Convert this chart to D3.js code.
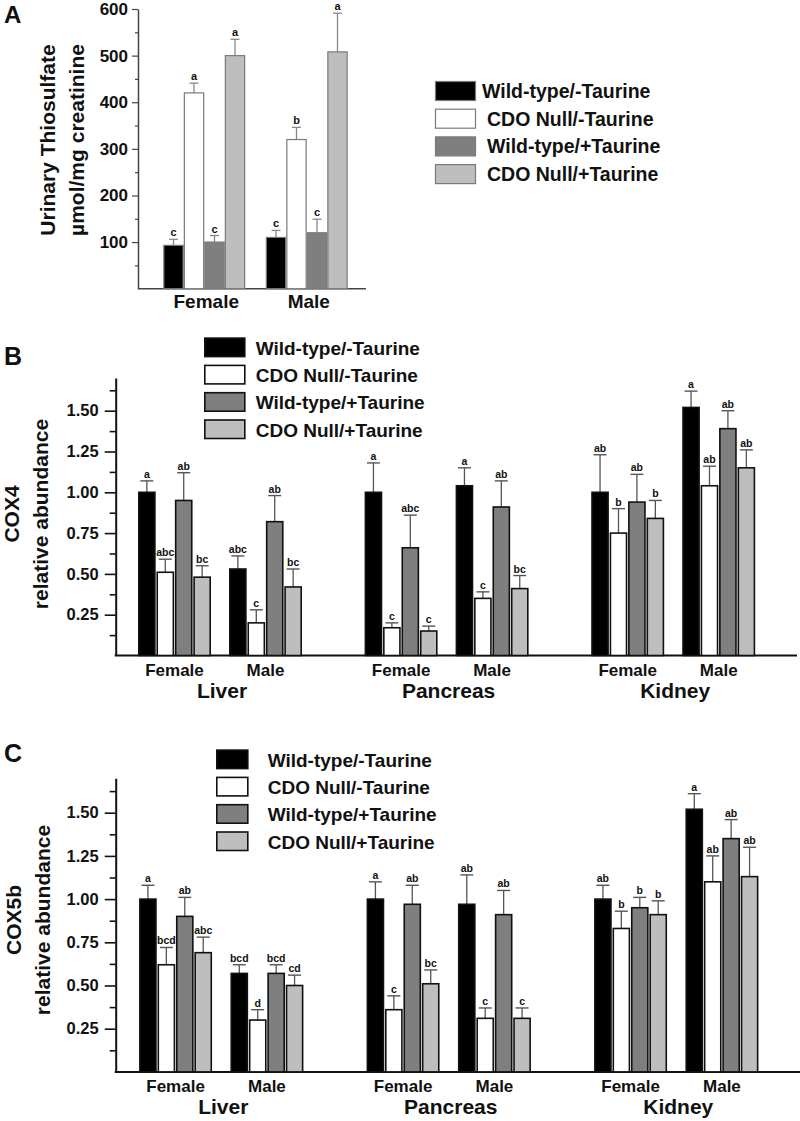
<!DOCTYPE html>
<html><head><meta charset="utf-8">
<script src="https://cdn.jsdelivr.net/npm/d3@7"></script>
<style>
body{margin:0;background:#fff;}
text{font-family:"Liberation Sans",Arial,Helvetica,sans-serif;font-weight:bold;fill:#111;}
</style></head>
<body>
<svg id="fig" width="800" height="1121"></svg>
<script>
// ---------- DATA ----------
const seriesNames = ["Wild-type/-Taurine", "CDO Null/-Taurine", "Wild-type/+Taurine", "CDO Null/+Taurine"];
const sexes = ["Female", "Male"];
const tissues = ["Liver", "Pancreas", "Kidney"];

// Panel A: urinary thiosulfate (µmol/mg creatinine), [sex][series]
const thioMean    = [[93, 420, 100, 500], [110, 320, 120, 508]];
const thioSem     = [[13, 21, 14, 35], [15, 26, 29, 83]];
const thioLetters = [["c", "a", "c", "a"], ["c", "b", "c", "a"]];
const thioTicks   = [100, 200, 300, 400, 500, 600];

// Panel B: COX4 relative abundance, groups: Liver F, Liver M, Pancreas F, Pancreas M, Kidney F, Kidney M
const cox4Mean = [
  [1.00, 0.51, 0.95, 0.48], [0.53, 0.20, 0.82, 0.42],
  [1.00, 0.17, 0.66, 0.15], [1.04, 0.35, 0.91, 0.41],
  [1.00, 0.75, 0.94, 0.84], [1.52, 1.04, 1.39, 1.15]];
const cox4Sem = [
  [0.07, 0.08, 0.17, 0.07], [0.08, 0.08, 0.16, 0.11],
  [0.18, 0.03, 0.20, 0.03], [0.11, 0.04, 0.16, 0.08],
  [0.23, 0.15, 0.17, 0.11], [0.10, 0.12, 0.11, 0.11]];
const cox4Letters = [
  ["a", "abc", "ab", "bc"], ["abc", "c", "ab", "bc"],
  ["a", "c", "abc", "c"], ["a", "c", "ab", "bc"],
  ["ab", "b", "ab", "b"], ["a", "ab", "ab", "ab"]];

// Panel C: COX5b relative abundance
const cox5bMean = [
  [1.00, 0.62, 0.90, 0.69], [0.57, 0.30, 0.57, 0.50],
  [1.00, 0.36, 0.97, 0.51], [0.97, 0.31, 0.91, 0.31],
  [1.00, 0.83, 0.95, 0.91], [1.52, 1.10, 1.35, 1.13]];
const cox5bSem = [
  [0.08, 0.10, 0.11, 0.09], [0.05, 0.06, 0.05, 0.06],
  [0.10, 0.08, 0.11, 0.08], [0.17, 0.06, 0.14, 0.06],
  [0.08, 0.10, 0.06, 0.08], [0.09, 0.15, 0.11, 0.17]];
const cox5bLetters = [
  ["a", "bcd", "ab", "abc"], ["bcd", "d", "bcd", "cd"],
  ["a", "c", "ab", "bc"], ["ab", "c", "ab", "c"],
  ["ab", "b", "b", "b"], ["a", "ab", "ab", "ab"]];
const coxTicks = [0.25, 0.50, 0.75, 1.00, 1.25, 1.50];

// ---------- STYLE ----------
const fills = ["#000000", "#ffffff", "#7f7f7f", "#bebebe"];
const svg = d3.select("#fig");
const color = d3.scaleOrdinal().domain(seriesNames).range(fills);

// ---------- PANEL A ----------
(function panelA(){
  const g = svg.append("g");
  const y = d3.scaleLinear().domain([0, 600]).range([288.7, 9]);
  const x = d3.scaleBand().domain(sexes).range([153, 358]).padding(0);
  const xs = d3.scaleBand().domain(seriesNames).range([0, x.bandwidth()]).paddingInner(0).paddingOuter(0.5);

  const minor = d3.range(50, 600, 100);
  g.append("g").attr("transform", "translate(138,0)")
    .call(d3.axisLeft(y).tickValues(minor).tickSize(3).tickFormat(""))
    .call(a => { a.select(".domain").remove(); a.selectAll("line").attr("stroke", "#444").attr("stroke-width", 1.2); });
  g.append("g").attr("transform", "translate(138,0)")
    .call(d3.axisLeft(y).tickValues(thioTicks).tickSize(6).tickSizeOuter(0).tickPadding(4).tickFormat(d3.format("d")))
    .call(a => {
      a.select(".domain").attr("stroke", "#444").attr("stroke-width", 1.5);
      a.selectAll("line").attr("stroke", "#444").attr("stroke-width", 1.2);
      a.selectAll("text").attr("font-size", 17).attr("fill", "#111").style("font-family", "'Liberation Sans', Arial, sans-serif");
    });
  g.append("line").attr("x1", 138).attr("x2", 366).attr("y1", y(0)).attr("y2", y(0))
    .attr("stroke", "#444").attr("stroke-width", 1.5);

  const data = [];
  sexes.forEach((s, i) => seriesNames.forEach((n, j) =>
    data.push({s, n, v: thioMean[i][j], e: thioSem[i][j], l: thioLetters[i][j]})));

  const bars = g.append("g").selectAll("g").data(data).join("g")
    .attr("transform", d => `translate(${x(d.s) + xs(d.n)},0)`);
  const bw = xs.bandwidth();
  bars.append("line").attr("x1", bw/2).attr("x2", bw/2)
    .attr("y1", d => y(d.v)).attr("y2", d => y(d.v + d.e)).attr("stroke", "#888").attr("stroke-width", 1.3);
  bars.append("line").attr("x1", bw/2 - 4.5).attr("x2", bw/2 + 4.5)
    .attr("y1", d => y(d.v + d.e)).attr("y2", d => y(d.v + d.e)).attr("stroke", "#888").attr("stroke-width", 1.3);
  bars.append("rect").attr("x", 0.6).attr("width", bw - 1.2)
    .attr("y", d => y(d.v)).attr("height", d => y(0) - y(d.v))
    .attr("fill", d => color(d.n)).attr("stroke", "#7a7a7a").attr("stroke-width", 1.2);
  bars.append("text").attr("x", bw/2).attr("y", d => y(d.v + d.e) - 3)
    .attr("text-anchor", "middle").attr("font-size", 11).text(d => d.l);

  g.selectAll(".sexlab").data(sexes).join("text").attr("class", "sexlab")
    .attr("x", d => x(d) + x.bandwidth()/2 + 2).attr("y", 308).attr("text-anchor", "middle")
    .attr("font-size", 19).text(d => d);

  const yt = g.append("g").attr("transform", "translate(0,140)");
  yt.append("text").attr("transform", "translate(55,0) rotate(-90)").attr("text-anchor", "middle")
    .attr("font-size", 21).text("Urinary Thiosulfate");
  yt.append("text").attr("transform", "translate(84,0) rotate(-90)").attr("text-anchor", "middle")
    .attr("font-size", 21).text("µmol/mg creatinine");

  const leg = g.append("g").selectAll("g").data(seriesNames).join("g")
    .attr("transform", (d, i) => `translate(435,${81 + i * 27.7})`);
  leg.append("rect").attr("x", 0.5).attr("y", 0.5).attr("width", 40).attr("height", 19)
    .attr("fill", d => color(d)).attr("stroke", "#7a7a7a").attr("stroke-width", 1.2);
  leg.append("text").attr("x", (d, i) => i === 0 ? 47 : 52).attr("y", 17)
    .attr("font-size", 19.5).text(d => d);

  svg.append("text").attr("x", 4).attr("y", 23).attr("font-size", 24).text("A");
})();

// ---------- PANELS B & C ----------
function coxPanel(cfg){
  const g = svg.append("g");
  const y = d3.scaleLinear().domain([0, 1.7]).range([cfg.y0, cfg.y0 - 1.7 * cfg.ppu]);
  const xt = d3.scaleBand().domain(tissues).range(cfg.tRange).padding(0);
  const xsex = d3.scalePoint().domain(sexes).range([0, xt.bandwidth()]).padding(cfg.sexPad);
  const xs = d3.scaleBand().domain(seriesNames).range([-cfg.half, cfg.half]).paddingInner(0.04);
  const ax = 115.7;

  const minor = d3.range(0.125, 1.7, 0.25);
  g.append("g").attr("transform", `translate(${ax},0)`)
    .call(d3.axisLeft(y).tickValues(minor).tickSize(6).tickFormat(""))
    .call(a => { a.select(".domain").remove(); a.selectAll("line").attr("stroke", "#111").attr("stroke-width", 1.6); });
  g.append("g").attr("transform", `translate(${ax},0)`)
    .call(d3.axisLeft(y).tickValues(coxTicks).tickSize(11).tickSizeOuter(0).tickPadding(6).tickFormat(d3.format(".2f")))
    .call(a => {
      a.select(".domain").attr("stroke", "#111").attr("stroke-width", 2);
      a.selectAll("line").attr("stroke", "#111").attr("stroke-width", 1.6);
      a.selectAll("text").attr("font-size", 16.5).attr("fill", "#111").style("font-family", "'Liberation Sans', Arial, sans-serif");
    });
  g.append("line").attr("x1", ax - 1).attr("x2", cfg.xEnd).attr("y1", y(0)).attr("y2", y(0))
    .attr("stroke", "#111").attr("stroke-width", 2);

  const data = [];
  tissues.forEach((t, ti) => sexes.forEach((s, si) => {
    const k = ti * 2 + si;
    seriesNames.forEach((n, j) => data.push({t, s, n, v: cfg.mean[k][j], e: cfg.sem[k][j], l: cfg.letters[k][j]}));
  }));
  const bw = xs.bandwidth();
  const bars = g.append("g").selectAll("g").data(data).join("g")
    .attr("transform", d => `translate(${xt(d.t) + xsex(d.s) + xs(d.n)},0)`);
  bars.append("line").attr("x1", bw/2).attr("x2", bw/2)
    .attr("y1", d => y(d.v)).attr("y2", d => y(d.v + d.e)).attr("stroke", "#555").attr("stroke-width", 1.3);
  bars.append("line").attr("x1", bw/2 - 6.5).attr("x2", bw/2 + 6.5)
    .attr("y1", d => y(d.v + d.e)).attr("y2", d => y(d.v + d.e)).attr("stroke", "#555").attr("stroke-width", 1.4);
  bars.append("rect").attr("x", 0.8).attr("width", bw - 1.6)
    .attr("y", d => y(d.v)).attr("height", d => y(0) - y(d.v))
    .attr("fill", d => color(d.n)).attr("stroke", "#111").attr("stroke-width", 1.6);
  bars.append("text").attr("x", bw/2).attr("y", d => y(d.v + d.e) - 3)
    .attr("text-anchor", "middle").attr("font-size", 10.5).text(d => d.l);

  tissues.forEach(t => {
    g.selectAll(null).data(sexes).join("text")
      .attr("x", s => xt(t) + xsex(s)).attr("y", y(0) + 20).attr("text-anchor", "middle")
      .attr("font-size", 17).text(s => s);
  });
  g.selectAll(".tis").data(tissues).join("text").attr("class", "tis")
    .attr("x", t => xt(t) + xt.bandwidth()/2 + 2).attr("y", y(0) + 42).attr("text-anchor", "middle")
    .attr("font-size", 21).text(t => t);

  g.append("text").attr("transform", `translate(${cfg.tx1},${cfg.tyc}) rotate(-90)`).attr("text-anchor", "middle")
    .attr("font-size", 21).text(cfg.title);
  g.append("text").attr("transform", `translate(${cfg.tx2},${cfg.tyc}) rotate(-90)`).attr("text-anchor", "middle")
    .attr("font-size", 21).text("relative abundance");

  const leg = g.append("g").selectAll("g").data(seriesNames).join("g")
    .attr("transform", (d, i) => `translate(${cfg.legX},${cfg.legY + i * 27.3})`);
  leg.append("rect").attr("x", 0.8).attr("y", 0.8).attr("width", cfg.legW).attr("height", 18.5)
    .attr("fill", d => color(d)).attr("stroke", "#111").attr("stroke-width", 1.6);
  leg.append("text").attr("x", cfg.legTx).attr("y", 17.5).attr("font-size", 19).text(d => d);

  svg.append("text").attr("x", 4).attr("y", cfg.letterY).attr("font-size", 25).text(cfg.letter);
}

coxPanel({letter: "B", letterY: 365, title: "COX4", mean: cox4Mean, sem: cox4Sem, letters: cox4Letters,
  y0: 655.5, ppu: 163.2, tRange: [106.7, 786.5], sexPad: 0.745, half: 36.5, xEnd: 797,
  tx1: 19, tx2: 48, tyc: 514, legX: 204, legY: 337.3, legW: 40, legTx: 51.7});
coxPanel({letter: "C", letterY: 762, title: "COX5b", mean: cox5bMean, sem: cox5bSem, letters: cox5bLetters,
  y0: 1071.9, ppu: 172.8, tRange: [107.5, 790], sexPad: 0.745, half: 36.5, xEnd: 800,
  tx1: 21, tx2: 50, tyc: 920, legX: 216, legY: 749.3, legW: 31, legTx: 51.7});
</script>
</body></html>
